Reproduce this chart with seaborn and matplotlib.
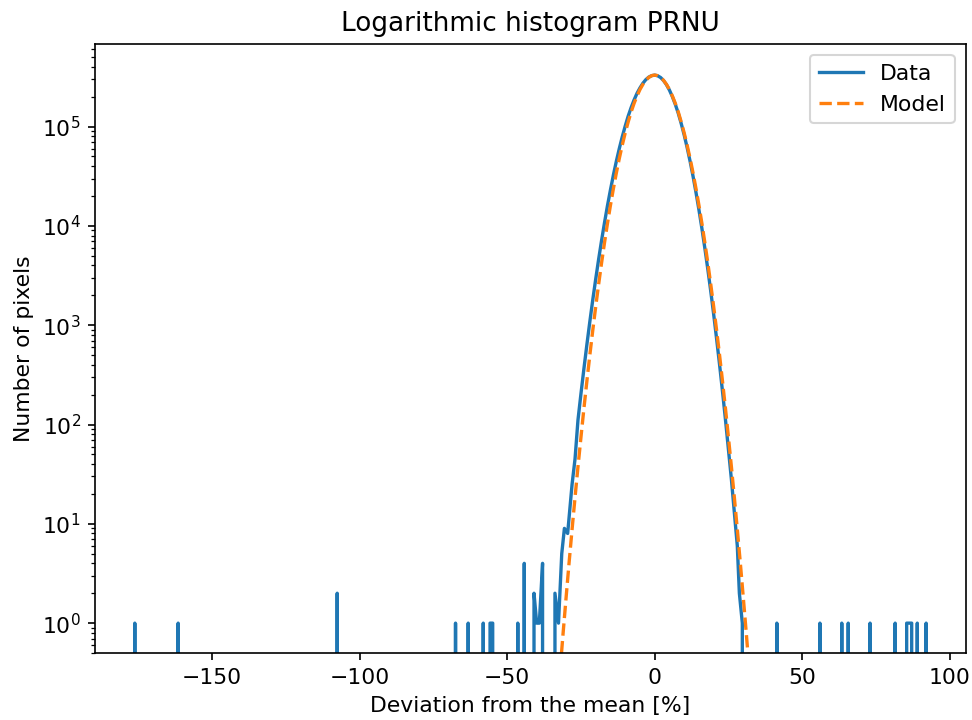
import numpy as np
import pandas as pd
import matplotlib
matplotlib.use("Agg")
import matplotlib.pyplot as plt
import seaborn as sns

# Non-empty histogram bins: deviation from mean [%] and pixel counts
outlier_left_x = [-176.2, -161.5, -107.6, -67.5, -63.2, -58.1, -55.8, -54.9,
                  -46.4, -44.2, -40.9, -40.0, -39.1, -38.0, -33.8, -32.6,
                  -31.5, -30.6, -29.5]
outlier_left_n = [1, 1, 2, 1, 1, 1, 1, 1,
                  1, 4, 2, 1, 1, 4, 2, 1,
                  5, 9, 8]

body_x = list(range(-28, 29)) + [28.7, 29.7]
body_n = [25, 45, 111, 203, 362, 631, 1075, 1790, 2900, 4610, 7140,
          10800, 16000, 23000, 32500, 44700, 60000, 78800, 101000, 127000,
          155000, 185000, 216000, 245000, 273000, 297000, 315000, 326000,
          330000,
          325000, 312000, 291000, 264000, 233000, 200000, 167000, 136000,
          107000, 82300, 61500, 44700, 31600, 21700, 14500, 9430, 5960,
          3670, 2200, 1280, 722, 398, 213, 111, 56, 28, 13, 6,
          2, 1]

outlier_right_x = [41.4, 56.0, 63.4, 65.6, 73.0, 81.5, 85.4, 86.25, 87.1,
                   89.0, 92.0]
outlier_right_n = [1, 1, 1, 1, 1, 1, 1, 1, 1, 1, 1]

# Gaussian model
model_x = list(range(-33, 34))
model_n = [0.146, 0.35, 0.82, 1.85, 4.1, 8.8, 18.4, 37.5, 74, 144, 270, 495,
           882, 1530, 2580, 4250, 6800, 10600, 16100, 23700, 34100, 47700,
           64900, 86100, 111000, 140000, 171000, 203000, 236000, 266000,
           292000, 313000, 326000, 330000, 326000, 313000, 292000, 266000,
           236000, 203000, 171000, 140000, 111000, 86100, 64900, 47700,
           34100, 23700, 16100, 10600, 6800, 4250, 2580, 1530, 882, 495,
           270, 144, 74, 37.5, 18.4, 8.8, 4.1, 1.85, 0.82, 0.35, 0.146]

# Build the histogram line, adding empty (zero) bins around gaps
xs = outlier_left_x + body_x + outlier_right_x
ns = outlier_left_n + body_n + outlier_right_n
pts_x, pts_n = [], []
bin_w = 0.9
for i, (x, n) in enumerate(zip(xs, ns)):
    if i == 0 or x - xs[i - 1] > 1.7:
        pts_x.append(x - bin_w)
        pts_n.append(0)
    pts_x.append(x)
    pts_n.append(n)
    if i == len(xs) - 1 or xs[i + 1] - x > 1.7:
        pts_x.append(x + bin_w)
        pts_n.append(0)

data_df = pd.DataFrame({"x": pts_x, "n": pts_n})
model_df = pd.DataFrame({"x": model_x, "n": model_n})

plt.rcParams["font.size"] = 10.5
plt.rcParams["axes.titlesize"] = 12.6

fig, ax = plt.subplots(figsize=(6.48, 4.8), dpi=150)
sns.lineplot(data=data_df, x="x", y="n", ax=ax, color="#1f77b4",
             linewidth=1.6, estimator=None, sort=False, label="Data")
sns.lineplot(data=model_df, x="x", y="n", ax=ax, color="#ff7f0e",
             linewidth=1.6, linestyle="--", estimator=None, label="Model")
ax.set_yscale("log")
ax.set_xlim(-189.6, 105.4)
ax.set_ylim(0.5, 6.8e5)
ax.set_title("Logarithmic histogram PRNU")
ax.set_xlabel("Deviation from the mean [%]")
ax.set_ylabel("Number of pixels")
ax.legend(loc="upper right")
fig.subplots_adjust(left=0.098, right=0.9935, top=0.939, bottom=0.093)
fig.savefig("out.png", dpi=150)
